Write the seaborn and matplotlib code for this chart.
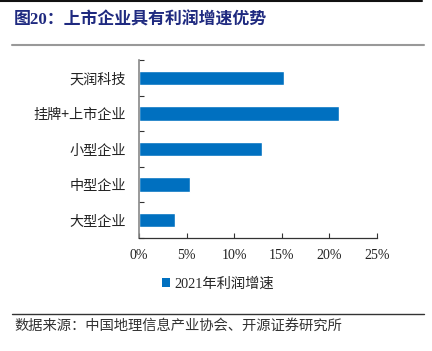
import matplotlib
matplotlib.use("Agg")
import matplotlib.pyplot as plt
import seaborn as sns
import pandas as pd
from matplotlib.lines import Line2D
from matplotlib.patches import Patch
from matplotlib.ticker import FixedLocator, PercentFormatter

categories = ["天润科技", "挂牌+上市企业", "小型企业", "中型企业", "大型企业"]
values = [15.2, 21.0, 12.9, 5.4, 3.8]
series_name = "2021年利润增速"
x_ticks = [0, 5, 10, 15, 20, 25]

sns.set_style("white")
plt.rcParams["font.family"] = ["Liberation Serif", "Noto Sans CJK SC", "DejaVu Sans"]

df = pd.DataFrame({"cat": categories, "val": values})

fig = plt.figure(figsize=(4.32, 3.51), dpi=100)
ax = fig.add_axes([139 / 432, 1 - 238 / 351, 238 / 432, 178 / 351])

sns.barplot(data=df, x="val", y="cat", order=categories, color="#0070C0",
            width=0.41, ax=ax, saturation=1)

ax.set_xlim(0, 25)
ax.set_ylim(4.5, -0.5)
ax.xaxis.set_major_locator(FixedLocator(x_ticks))
ax.xaxis.set_major_formatter(PercentFormatter(decimals=0))
ax.set_xlabel("")
ax.set_ylabel("")

ax.set_yticks(range(len(categories)))
ax.set_yticklabels(categories, fontsize=10.2, color="#222222",
                   family=["Noto Sans CJK SC", "DejaVu Sans"])
ax.set_yticks([i - 0.5 for i in range(len(categories) + 1)], minor=True)
ax.tick_params(axis="y", which="major", length=0, pad=9.5)
ax.tick_params(axis="y", which="minor", length=3.5, direction="in", width=0.8, color="#333333", left=True)
ax.tick_params(axis="x", which="major", length=3.5, direction="in", width=0.8, color="#333333",
               labelsize=10, pad=8, bottom=True)
for lab in ax.get_xticklabels():
    lab.set_color("#222222")

for s in ["top", "right"]:
    ax.spines[s].set_visible(False)
ax.spines["left"].set_color("#888888")
ax.spines["left"].set_linewidth(1.2)
ax.spines["bottom"].set_color("#333333")
ax.spines["bottom"].set_linewidth(0.9)

# legend
handle = Patch(facecolor="#0070C0", edgecolor="none")
fig.legend([handle], [series_name], loc="center", bbox_to_anchor=(218 / 432, 1 - 284 / 351),
           frameon=False, handlelength=0.6, handleheight=0.6, handletextpad=0.3,
           prop={"family": ["Liberation Serif", "Noto Sans CJK SC"], "size": 10.3})

# title and decorative lines
fig.add_artist(Line2D([0, 422 / 432], [1 - 1 / 351, 1 - 1 / 351], color="#111111", lw=1.5))
fig.text(14 / 432, 1 - 20 / 351, "图20：上市企业具有利润增速优势", fontsize=12.2, fontweight="bold",
         color="#1F2A80", va="center", ha="left",
         family=["Liberation Serif", "Noto Sans CJK SC"])
fig.add_artist(Line2D([12 / 432, 424 / 432], [1 - 45 / 351, 1 - 45 / 351], color="#999999", lw=1.5))
fig.add_artist(Line2D([12 / 432, 424 / 432], [1 - 314 / 351, 1 - 314 / 351], color="#333333", lw=1.0))
fig.text(14 / 432, 1 - 326 / 351, "数据来源：中国地理信息产业协会、开源证券研究所", fontsize=10.3,
         color="#333333", va="center", ha="left", family=["Noto Sans CJK SC", "DejaVu Sans"])

fig.savefig("out.png", dpi=100)
